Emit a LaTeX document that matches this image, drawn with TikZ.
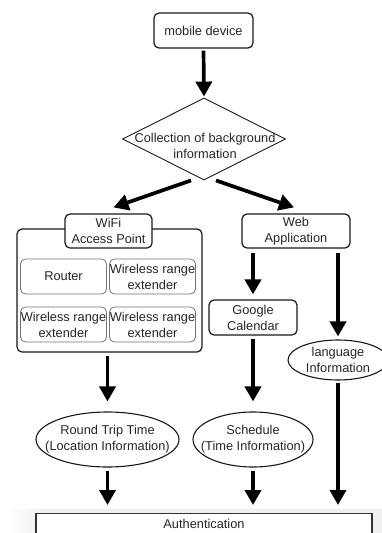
\documentclass[tikz,border=0pt]{standalone}
\usepackage{fontspec}
\setmainfont{Liberation Sans}
\usetikzlibrary{shapes.geometric,arrows.meta,calc}
\begin{document}
\begin{tikzpicture}[x=1pt,y=-1pt,
  every node/.style={font=\fontsize{12.8}{16}\selectfont, text=black!85, inner sep=0pt, align=center},
  rbox/.style={draw=black!90, line width=1.2pt, rounded corners=5pt, fill=white},
  ibox/.style={draw=black!55, line width=0.8pt, rounded corners=5pt},
  oval/.style={draw=black!90, ellipse, line width=1.1pt, inner sep=0pt},
  flow/.style={line width=3.7pt, -{Triangle[width=16pt,length=15pt]}},
]
\useasboundingbox (0,0) rectangle (382,533);
% faint background band at the bottom
\fill[left color=white, right color=black!6] (8,509) rectangle (40,533);
\fill[black!6] (40,509) rectangle (382,533);

% nodes
\node[rbox, minimum width=99, minimum height=35] (mob) at (203.5,30.5) {mobile device};
\node[draw=black!90, diamond, line width=0.9pt, minimum width=163, minimum height=82] (dia) at (204,139) {};
\node (diat) at (205,146) {Collection of background\\information};

\node[rbox, minimum width=185, minimum height=123] (cont) at (109.5,290.5) {};
\node[rbox, minimum width=87, minimum height=34] (wifi) at (108.5,231) {WiFi\\Access Point};
\node[ibox, minimum width=86, minimum height=35] (router) at (63.5,276.5) {Router};
\node[ibox, minimum width=86, minimum height=35] (ext1) at (152.5,276.5) {Wireless range\\extender};
\node[ibox, minimum width=86, minimum height=35] (ext2) at (63.5,324.5) {Wireless range\\extender};
\node[ibox, minimum width=86, minimum height=35] (ext3) at (152.5,324.5) {Wireless range\\extender};

\node[rbox, minimum width=108, minimum height=34] (web) at (296,231) {Web\\Application};
\node[rbox, minimum width=88, minimum height=35] (gcal) at (253,317.5) {Google\\Calendar};
\node[oval, minimum width=100, minimum height=40] (lang) at (338,360) {};
\node (langt) at (338,360) {language\\Information};

\node[oval, minimum width=143, minimum height=55] (rtt) at (107.5,439.5) {};
\node (rttt) at (107.5,439) {Round Trip Time\\(Location Information)};
\node[oval, minimum width=120, minimum height=55] (sch) at (253,439.5) {};
\node (scht) at (253,439) {Schedule\\(Time Information)};

\node[draw=black!80, line width=1.3pt, fill=white, minimum width=336, minimum height=40, anchor=north] (auth) at (204,513) {};
\node (autht) at (204,524) {Authentication};

% connectors
\coordinate (dl) at ($(dia.south)+(-13,0)$);
\coordinate (dr) at ($(dia.south)+(12,0)$);
\coordinate (wtip) at ($(wifi.north)+(5,-6)$);
\coordinate (atip) at ($(web.north)+(-2,-6)$);

\draw[flow, shorten <=2pt, shorten >=1pt] (mob.south) -- (dia.north);
\draw[flow] (dl) -- (wtip);
\draw[flow] (dr) -- (atip);
\draw[flow, shorten <=4pt, shorten >=5pt] (gcal.north |- web.south) -- (gcal.north);
\draw[flow, shorten <=4pt, shorten >=3pt] (lang.north |- web.south) -- (lang.north);
\draw[flow, shorten <=3pt, shorten >=10pt] (cont.south -| rtt.north) -- (rtt.north);
\draw[flow, shorten <=3pt, shorten >=10pt] (gcal.south) -- (sch.north);
\draw[flow, shorten <=3pt, shorten >=8pt] (rtt.south) -- (rtt.south |- auth.north);
\draw[flow, shorten <=3pt, shorten >=8pt] (sch.south) -- (sch.south |- auth.north);
\draw[flow, shorten <=2pt, shorten >=8pt] (lang.south) -- (lang.south |- auth.north);
\end{tikzpicture}
\end{document}
